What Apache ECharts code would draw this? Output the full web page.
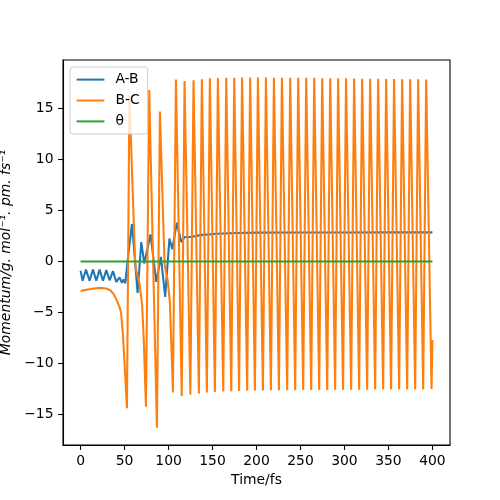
<!DOCTYPE html>
<html>
<head>
<meta charset="utf-8">
<script src="https://cdn.jsdelivr.net/npm/echarts@6/dist/echarts.min.js"></script>
<style>
  html, body { margin: 0; padding: 0; background: #fff; }
  #chart { width: 500px; height: 500px; }
</style>
</head>
<body>
<div id="chart"></div>
<script>
// tick labels
var xTicks = [0, 50, 100, 150, 200, 250, 300, 350, 400];
var yTicks = [-15, -10, -5, 0, 5, 10, 15];

// A-B momentum
var abTime = [0, 2.3, 6.1, 10.2, 14.1, 17.8, 21.6, 25.5, 29.2, 33, 36.8, 40.6, 44.3, 47, 48.9, 50.8,
  54, 58.4, 61.5, 64.8, 69, 72.4, 79.6, 86, 91.3, 96.2, 101, 104.2, 109.5, 114.4, 118.5, 125,
  136, 155, 178, 200, 250, 300, 350, 400];
var abValue = [-0.92, -1.9, -0.8, -1.9, -0.8, -1.9, -0.8, -1.9, -0.85, -1.85, -0.95, -2.0, -1.57, -2.1, -1.77, -2.16,
  0.5, 3.66, 0.5, -3.1, 1.9, -0.2, 2.65, -2.0, 0.45, -3.47, 2.25, 1.2, 3.8, 1.9, 2.4, 2.4,
  2.58, 2.72, 2.79, 2.82, 2.84, 2.84, 2.85, 2.85];

// B-C momentum
var bcTime = [0, 5, 10, 15, 20, 25, 30, 34, 38, 41, 44, 46, 48, 50, 52.7,
  55.5, 62.2, 64.5, 67, 70, 72, 74.3, 78, 86.8, 90.2, 95.5, 97, 99, 101.5, 105,
  108.4, 115.0, 118.2, 124.8, 128.4, 134.5, 137.9, 143.6, 147.0, 152.7, 156.1, 162.2,
  165.6, 171.3, 174.7, 180.2, 183.6, 189.4, 192.8, 198.2, 201.6, 207.3, 210.7, 216.4,
  219.8, 225.5, 228.9, 234.9, 238.3, 244.0, 247.4, 253.1, 256.5, 262.2, 265.6, 271.3,
  274.7, 280.4, 283.8, 289.4, 292.8, 298.4, 301.8, 307.6, 311.0, 316.7, 320.1, 325.8,
  329.2, 334.9, 338.3, 344.0, 347.4, 353.0, 356.4, 362.2, 365.6, 371.3, 374.7, 380.4,
  383.8, 389.5, 392.9, 399.0, 400];
var bcValue = [-2.9, -2.8, -2.72, -2.66, -2.62, -2.6, -2.68, -2.85, -3.25, -3.8, -4.4, -5.0, -7.0, -10.0, -14.4,
  16.3, -0.5, -1.3, -2.2, -4.3, -8.0, -14.25, 16.8, -16.3, 14.7, -0.3, -1.0, -1.8, -4.0, -12.85,
  17.84, -13.2, 17.68, -13.05, 17.77, -12.95, 17.87, -12.85, 17.95, -12.8, 17.98, -12.75,
  18.0, -12.72, 18.02, -12.7, 18.03, -12.68, 18.03, -12.66, 18.03, -12.65, 18.03, -12.64,
  18.02, -12.63, 18.02, -12.62, 18.02, -12.62, 18.02, -12.6, 18.0, -12.6, 18.0, -12.6,
  17.97, -12.6, 17.97, -12.58, 17.95, -12.58, 17.95, -12.58, 17.93, -12.57, 17.92, -12.57,
  17.9, -12.56, 17.9, -12.56, 17.88, -12.55, 17.88, -12.55, 17.86, -12.55, 17.85, -12.55,
  17.85, -12.55, 17.84, -12.5, -7.7];

// theta
var thTime = [0, 400];
var thValue = [0, 0];

function pairs(t, v) {
  var out = [];
  for (var i = 0; i < t.length; i++) out.push([t[i], v[i]]);
  return out;
}

var font = 'DejaVu Sans';
var minus = function (v) { return String(v).replace('-', '\u2212'); };

var myChart = echarts.init(document.getElementById('chart'), null, {renderer: 'canvas'});
myChart.setOption({
  animation: false,
  backgroundColor: '#fff',
  grid: {
    left: 63, right: 50, top: 60, bottom: 55,
    show: true, borderColor: '#000', borderWidth: 1.1,
    outerBoundsMode: 'none'
  },
  legend: {
    orient: 'vertical',
    left: 70, top: 67,
    padding: [5.6, 8, 5.6, 5.6],
    itemWidth: 27.8,
    itemHeight: 14,
    itemGap: 6.9,
    selectedMode: false,
    backgroundColor: 'rgba(255,255,255,0.8)',
    borderColor: '#cccccc',
    borderWidth: 1,
    borderRadius: 3,
    itemStyle: {opacity: 0},
    textStyle: {fontFamily: font, fontSize: 13.9, color: '#000', padding: [0, 0, 0, 6]},
    data: ['A-B', 'B-C', 'θ']
  },
  xAxis: {
    type: 'value',
    min: -20, max: 420,
    name: 'Time/fs',
    nameLocation: 'middle',
    nameGap: 27,
    nameTextStyle: {fontFamily: font, fontSize: 13.9, color: '#000'},
    splitLine: {show: false},
    axisLine: {show: true, onZero: false, lineStyle: {color: '#000', width: 1.1}},
    axisTick: {show: true, length: 4.9, lineStyle: {color: '#000', width: 1.1}, customValues: xTicks},
    axisLabel: {fontFamily: font, fontSize: 13.9, color: '#000', margin: 9.5, customValues: xTicks, formatter: minus}
  },
  yAxis: {
    type: 'value',
    min: -18.0, max: 19.75,
    name: 'Momentum/g. mol⁻¹. pm. fs⁻¹',
    nameLocation: 'middle',
    nameRotate: 90,
    nameGap: 50,
    nameTextStyle: {fontFamily: font, fontSize: 13.9, fontStyle: 'italic', color: '#000'},
    splitLine: {show: false},
    axisLine: {show: true, onZero: false, lineStyle: {color: '#000', width: 1.1}},
    axisTick: {show: true, length: 4.9, lineStyle: {color: '#000', width: 1.1}, customValues: yTicks},
    axisLabel: {fontFamily: font, fontSize: 13.9, color: '#000', margin: 9.5, customValues: yTicks, formatter: minus}
  },
  series: [
    {
      name: 'A-B', type: 'line', symbol: 'none', showSymbol: false,
      color: '#1f77b4', lineStyle: {width: 2.08, color: '#1f77b4'},
      data: pairs(abTime, abValue)
    },
    {
      name: 'B-C', type: 'line', symbol: 'none', showSymbol: false,
      color: '#ff7f0e', lineStyle: {width: 2.08, color: '#ff7f0e'},
      data: pairs(bcTime, bcValue)
    },
    {
      name: 'θ', type: 'line', symbol: 'none', showSymbol: false,
      color: '#2ca02c', lineStyle: {width: 2.08, color: '#2ca02c'},
      data: pairs(thTime, thValue)
    }
  ]
});
</script>
</body>
</html>
